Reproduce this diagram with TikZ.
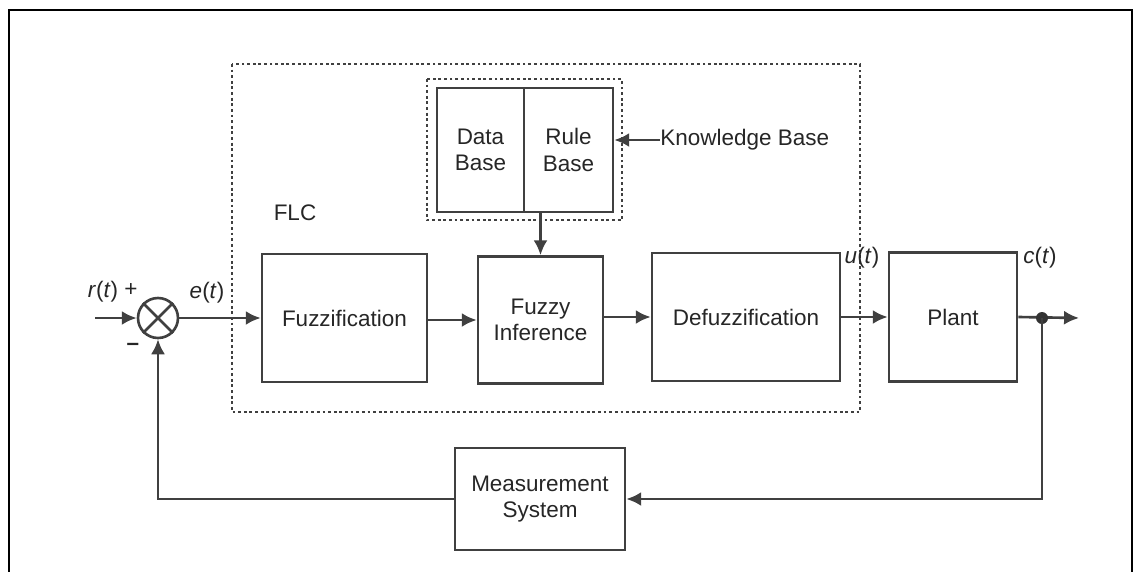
\documentclass[tikz,border=0pt]{standalone}
\usepackage{fontspec}
\setmainfont{Liberation Sans}
\usetikzlibrary{arrows.meta}

\begin{document}
\begin{tikzpicture}[x=0.02cm, y=-0.02cm, >={Latex[length=8.5pt,width=8pt]},
        every node/.style={font=\fontsize{12.8}{15}\selectfont, text=black!85},
        block/.style={draw=black!75, line width=1.5pt, align=center, inner sep=0pt},
        sig/.style={draw=black!75, line width=1.5pt},
        frame/.style={draw=black!75, line width=1.6pt, dash pattern=on 1.6pt off 1.6pt}]
	    \useasboundingbox (0, 0) rectangle (1134, 572);
	    \draw[line width=1pt] (9, 572) -- (9, 10) -- (1132, 10) -- (1132, 572);
	    
	    % controller frame and knowledge base frame
	    \draw[frame] (232, 64) rectangle (860, 412);
	    \draw[frame] (427, 79) rectangle (622, 220);
	    \node[] at (295, 213) (FLC) {FLC};
	    
	    \node[block, minimum width=1.74cm, minimum height=2.48cm] at (480.5, 150) (DB) {Data\\Base};
	    \node[block, minimum width=1.78cm, minimum height=2.48cm] at (568.5, 150) (RB) {Rule\\Base};
	    \node[anchor=west, inner sep=0pt] at (660, 140) (KB) {Knowledge Base};
	    
	    \node[block, minimum width=3.3cm, minimum height=2.56cm] at (344.5, 318) (FUZ) {Fuzzification};
	    \node[block, minimum width=2.5cm, minimum height=2.54cm] at (540.5, 320) (INF) {Fuzzy\\Inference};
	    \node[block, minimum width=3.76cm, minimum height=2.56cm] at (746, 317) (DEF) {Defuzzification};
	    \node[block, minimum width=2.56cm, minimum height=2.58cm] at (953, 317) (PLANT) {Plant};
	    \node[block, minimum width=3.4cm, minimum height=2.04cm] at (540, 499) (MEAS) {Measurement\\System};
	    
	    \node[sig, circle, minimum size=0.8cm, inner sep=0pt] at (158, 318) (SUM) {};
	    \draw[sig] (SUM.north west) -- (SUM.south east);
	    \draw[sig] (SUM.north east) -- (SUM.south west);
	    
	    \coordinate (IN) at (95, 318);
	    \coordinate (BR) at (1042, 318);
	    \coordinate (OUT) at (1079, 318);
	    
	    % labels
	    \node[] at (103, 292) (R) {\textit{r}(\textit{t})};
	    \node[] at (131, 290) (PLUS) {+};
	    \node[] at (133, 347) (MINUS) {\textbf{\textendash}};
	    \node[] at (207, 293) (E) {\textit{e}(\textit{t})};
	    \node[] at (862, 258) (U) {\textit{u}(\textit{t})};
	    \node[] at (1040, 258) (C) {\textit{c}(\textit{t})};
	    
	    \draw[sig, ->] (IN) -- (SUM.west);
	    \draw[sig, ->] (SUM.east) -- (SUM.east -| FUZ.west);
	    \draw[sig, ->] (FUZ.east |- INF.west) -- (INF.west);
	    \draw[sig, ->] (INF.east |- DEF.west) -- (DEF.west);
	    \draw[sig, ->] (DEF.east) -- (DEF.east -| PLANT.west);
	    \draw[sig, ->] (PLANT.east) -- (OUT);
	    \fill[black!80] (BR) circle (6);
	    \draw[sig, ->] (BR) |- (MEAS.east);
	    \draw[sig, ->] (MEAS.west) -| (SUM.south);
	    \draw[sig, ->] (INF.north |- RB.south) -- (INF.north);
	    \draw[sig, ->] (KB.west) -- (KB.west -| RB.east);
	    
	    \end{tikzpicture}
\end{document}
